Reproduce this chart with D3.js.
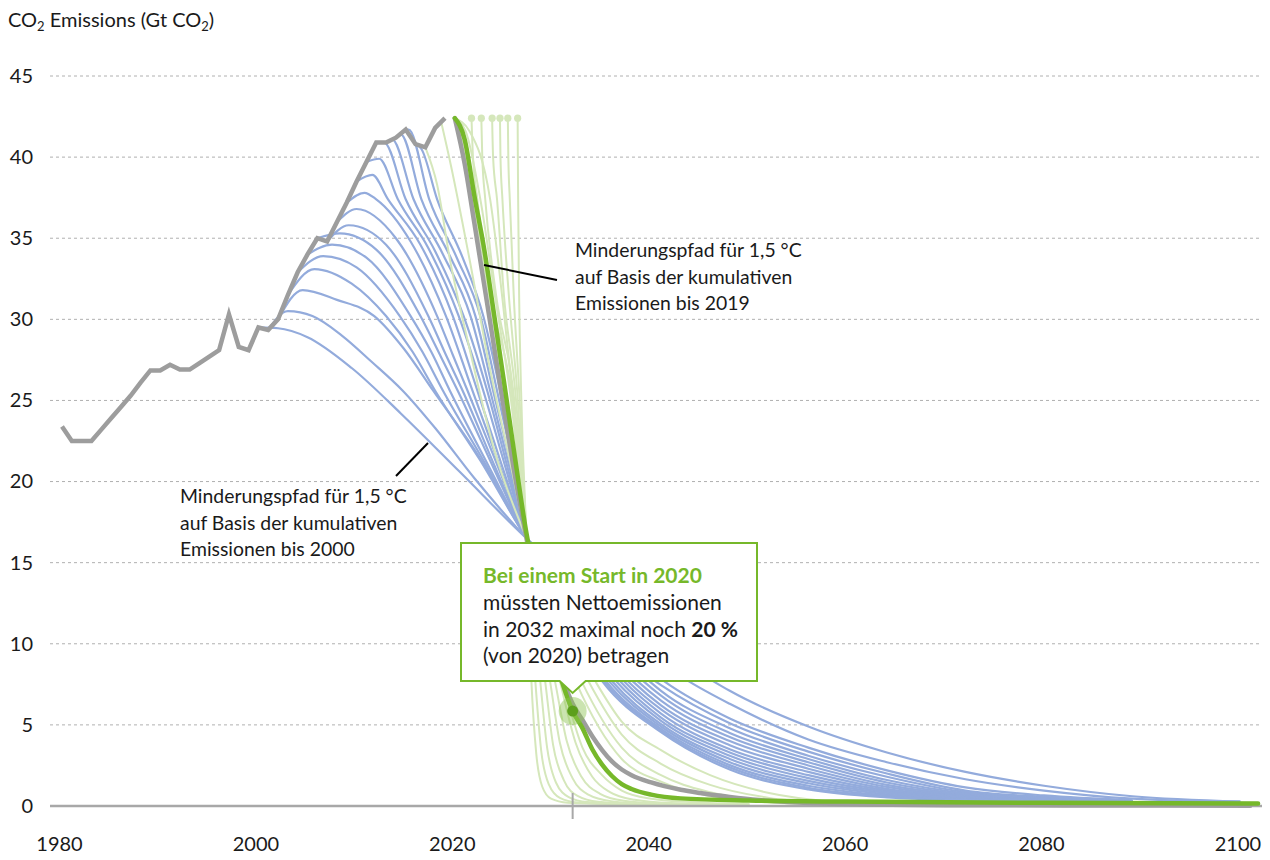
<!DOCTYPE html>
<html>
<head>
<meta charset="utf-8">
<script src="https://cdn.jsdelivr.net/npm/d3@7"></script>
<style>
  body { margin: 0; background: #fff; }
  svg { display: block; font-family: Lato, "Open Sans", sans-serif; }
</style>
</head>
<body>
<div id="chart"></div>
<script>
// historical emissions 1980-2019 (Gt CO2)
var historyYears = d3.range(1980, 2020);
var historyValues = [23.4, 22.5, 22.5, 22.5, 23.2, 23.9, 24.6, 25.3, 26.1, 26.85,
                     26.85, 27.2, 26.9, 26.9, 27.3, 27.7, 28.1, 30.3, 28.3, 28.1,
                     29.5, 29.35, 30.0, 31.5, 32.9, 34.0, 35.0, 34.8, 36.0, 37.2,
                     38.5, 39.7, 40.9, 40.9, 41.2, 41.7, 40.8, 40.6, 41.8, 42.4];

var xTicks = [1980, 2000, 2020, 2040, 2060, 2080, 2100];
var yTicks = [0, 5, 10, 15, 20, 25, 30, 35, 40, 45];

// point where all paths cross (hidden by the box)
var meetPoint = [2027.3, 16.5];

// main path (start 2020) and the grey one
var greenPath = [[2020, 42.4], [2021, 41.1], [2022, 37.6], [2023, 34.3], [2024, 30.3], [2025, 26.2],
                 [2026, 22.0], [2027.3, 16.8], [2028, 14.6], [2029, 12.0], [2030, 9.6], [2031, 7.5],
                 [2032, 5.85], [2033, 4.8], [2034, 3.5], [2035, 2.55], [2036, 1.85], [2037, 1.35],
                 [2038, 1.05], [2040, 0.7], [2043, 0.47], [2050, 0.34], [2060, 0.27], [2080, 0.2],
                 [2101.8, 0.16]];
var greyPath = [[2020, 42.4], [2021, 39.6], [2022, 35.9], [2023, 32.1], [2024, 28.3], [2025, 24.5],
                [2026, 20.8], [2027.3, 16.5], [2028, 14.3], [2029, 11.8], [2030, 9.6], [2031, 7.8],
                [2032, 6.3], [2033, 5.3], [2034, 4.3], [2035, 3.45], [2036, 2.75], [2037, 2.25],
                [2038, 1.9], [2040, 1.45], [2043, 1.0], [2045, 0.8], [2048, 0.56], [2051, 0.37],
                [2055, 0.22], [2060, 0.12], [2070, 0.05], [2085, 0.03], [2101, 0.02]];

// blue paths, start years 2000-2016: part before and after the meeting point
var blueHeads = [
  [[2000, 29.5], [2002, 29.45], [2005, 28.9], [2009.5, 27.0], [2014.5, 24.2], [2020.5, 20.6]],
  [[2001, 29.35], [2003, 30.5], [2005.5, 30.2], [2008.5, 29.0], [2011.5, 27.4], [2014.7, 25.6], [2018, 23.3], [2022, 20.2]],
  [[2002, 30.0], [2004.5, 31.8], [2008, 31.2], [2011.8, 30.2], [2014.8, 28.2], [2017.8, 25.6], [2022.5, 21.5]],
  [[2003, 31.5], [2005.7, 33.1], [2009.5, 32.2], [2013.0, 30.2], [2015.7, 28.0], [2018.0, 25.6], [2022.6, 21.3]],
  [[2004, 32.9], [2006.6, 33.9], [2010, 33.2], [2014.4, 30.2], [2016.7, 28.0], [2018.8, 25.6], [2023, 21.2]],
  [[2005, 34.0], [2007.5, 34.6], [2011, 33.8], [2015.5, 30.2], [2017.6, 28.0], [2019.5, 25.6], [2023.4, 21.0]],
  [[2006, 35.0], [2008.3, 35.3], [2012, 34.3], [2016.5, 30.2], [2018.5, 27.8], [2020.3, 25.6], [2023.9, 20.9]],
  [[2007, 34.8], [2009.2, 35.8], [2013, 34.6], [2017.3, 30.2], [2019.1, 27.8], [2020.8, 25.6], [2024.1, 20.9]],
  [[2008, 36.0], [2010.0, 36.8], [2014, 35.0], [2018.2, 30.2], [2019.8, 27.8], [2021.3, 25.6], [2024.4, 20.9]],
  [[2009, 37.2], [2010.8, 37.8], [2012.0, 37.4], [2015.5, 34.8], [2019.1, 30.2], [2021.8, 25.6], [2024.6, 20.9]],
  [[2010, 38.5], [2011.6, 38.9], [2013.2, 37.4], [2016.5, 34.6], [2019.8, 30.2], [2022.3, 25.6], [2024.9, 20.8]],
  [[2011, 39.7], [2012.3, 39.9], [2014.2, 37.4], [2017.3, 34.4], [2020.4, 30.2], [2022.9, 25.6], [2025.2, 20.8]],
  [[2012, 40.9], [2012.8, 40.9], [2015.0, 37.4], [2018.0, 34.2], [2020.9, 30.2], [2023.3, 25.6], [2025.4, 20.8]],
  [[2013, 40.9], [2013.6, 41.1], [2015.8, 37.4], [2018.8, 34.0], [2021.6, 30.2], [2023.6, 25.6], [2025.6, 20.8]],
  [[2014, 41.2], [2014.5, 41.4], [2016.6, 37.4], [2019.5, 33.9], [2022.1, 30.2], [2023.9, 25.6], [2025.8, 20.8]],
  [[2015, 41.7], [2015.3, 41.7], [2017.4, 37.4], [2020.2, 33.8], [2022.6, 30.2], [2024.3, 25.6], [2026.0, 20.8]],
  [[2016, 40.8], [2016.6, 40.5], [2018.2, 37.4], [2020.8, 33.8], [2022.9, 30.2], [2024.6, 25.6], [2026.1, 20.8]]
];
var blueTails = [
  [[2046.3, 7.7], [2048, 7.1], [2056, 4.9], [2064, 3.3], [2072, 2.1], [2080, 1.25], [2089, 0.6], [2100, 0.28]],
  [[2043.8, 7.7], [2048, 6.3], [2056, 4.1], [2064, 2.7], [2072, 1.65], [2080, 0.95], [2089, 0.45], [2100, 0.25]],
  [[2041.3, 7.7], [2048, 5.4], [2056, 3.6], [2064, 2.2], [2072, 1.15], [2080, 0.65], [2089, 0.35]],
  [[2040.4, 7.7], [2041, 7.45], [2048, 5.1], [2056, 3.35], [2064, 2.0], [2072, 0.95], [2080, 0.56], [2089, 0.33]],
  [[2039.8, 7.7], [2041, 7.1], [2048, 4.8], [2056, 3.1], [2064, 1.8], [2072, 0.85], [2080, 0.5], [2089, 0.31]],
  [[2039.2, 7.7], [2041, 6.8], [2048, 4.5], [2056, 2.9], [2064, 1.6], [2072, 0.78], [2080, 0.47], [2089, 0.3]],
  [[2038.6, 7.7], [2041, 6.5], [2048, 4.25], [2056, 2.7], [2064, 1.45], [2072, 0.72], [2080, 0.44], [2089, 0.29]],
  [[2038.1, 7.7], [2041, 6.2], [2048, 4.0], [2056, 2.5], [2064, 1.3], [2072, 0.66], [2080, 0.42], [2089, 0.28]],
  [[2037.6, 7.7], [2041, 5.95], [2048, 3.75], [2056, 2.3], [2064, 1.18], [2072, 0.6], [2080, 0.4], [2089, 0.28]],
  [[2037.2, 7.7], [2041, 5.7], [2048, 3.5], [2056, 2.1], [2064, 1.06], [2072, 0.56], [2080, 0.38], [2089, 0.27]],
  [[2036.8, 7.7], [2041, 5.45], [2048, 3.3], [2056, 1.9], [2064, 0.96], [2072, 0.52], [2080, 0.36], [2089, 0.27]],
  [[2036.4, 7.7], [2041, 5.25], [2048, 3.1], [2056, 1.72], [2064, 0.88], [2072, 0.49], [2080, 0.35], [2089, 0.27]],
  [[2036.0, 7.7], [2041, 5.05], [2048, 2.9], [2056, 1.55], [2064, 0.8], [2072, 0.46], [2080, 0.34], [2089, 0.26]],
  [[2035.7, 7.7], [2041, 4.9], [2048, 2.7], [2056, 1.4], [2064, 0.72], [2072, 0.43], [2080, 0.33], [2089, 0.26]],
  [[2035.4, 7.7], [2041, 4.75], [2048, 2.52], [2056, 1.25], [2064, 0.65], [2072, 0.4], [2080, 0.32], [2089, 0.26]],
  [[2035.2, 7.7], [2041, 4.65], [2048, 2.38], [2056, 1.12], [2064, 0.58], [2072, 0.38], [2080, 0.31], [2089, 0.25]],
  [[2035.0, 7.7], [2041, 4.55], [2048, 2.25], [2056, 1.02], [2064, 0.53], [2072, 0.36], [2080, 0.3], [2089, 0.25]]
];

// light green alternatives around the 2020 path
var lightHeads = [
  [[2017, 40.6], [2018.2, 38.3], [2019.5, 33.7], [2021.5, 28.2], [2024, 22.0]],
  [[2018.6, 42.2], [2019.6, 39.5], [2021.5, 33.7], [2023.5, 27.2], [2025.5, 21.6]],
  [[2020, 42.4], [2021, 40.0], [2022, 36.2], [2023, 32.4], [2024.5, 26.6]],
  [[2020, 42.4], [2021, 40.6], [2022, 36.9], [2023, 33.3], [2024.6, 27.2]],
  [[2020, 42.4], [2021.1, 41.6], [2022.6, 37.4], [2024.2, 31.0], [2025.6, 25.6]],
  [[2020, 42.4], [2021.5, 41.6], [2023.6, 37.4], [2024.9, 31.0], [2025.85, 25.6]],
  [[2021.7, 42.4], [2021.85, 40.0], [2022.3, 37.4], [2023.6, 31.5], [2025.75, 25.6]],
  [[2022.7, 42.4], [2022.8, 40.0], [2023.1, 37.4], [2024.2, 31.5], [2025.95, 25.6]],
  [[2023.8, 42.4], [2023.9, 40.0], [2024.3, 37.4], [2025.0, 31.5], [2026.15, 25.6]],
  [[2024.6, 42.4], [2024.65, 40.0], [2024.85, 37.4], [2025.5, 31.5], [2026.35, 25.6]],
  [[2025.4, 42.4], [2025.45, 40.0], [2025.6, 37.4], [2026.0, 31.5], [2026.55, 25.6]],
  [[2026.4, 42.4], [2026.42, 40.0], [2026.45, 37.4], [2026.55, 31.5], [2026.75, 25.6]]
];
var lightTails = [
  [[2034.3, 7.7], [2037, 5.2], [2041, 3.45], [2046, 1.9], [2052, 0.8], [2058, 0.3], [2065, 0.12]],
  [[2033.6, 7.7], [2037, 4.4], [2041, 2.6], [2046, 1.3], [2052, 0.5], [2058, 0.2], [2064, 0.1]],
  [[2032.9, 7.7], [2037, 3.6], [2041, 1.9], [2046, 0.85], [2052, 0.3], [2058, 0.14]],
  [[2032.3, 7.7], [2037, 2.9], [2041, 1.5], [2046, 0.6], [2052, 0.22], [2058, 0.12]],
  [[2030.95, 7.7], [2033, 3.6], [2035, 1.9], [2037, 0.95], [2040, 0.45], [2044, 0.25], [2050, 0.12]],
  [[2030.7, 7.7], [2032.3, 3.9], [2034.0, 1.8], [2035.8, 0.85], [2038.3, 0.38], [2042, 0.18], [2050, 0.09]],
  [[2030.2, 7.7], [2031.4, 4.0], [2032.9, 1.8], [2034.8, 0.75], [2037.2, 0.32], [2041, 0.15], [2050, 0.08]],
  [[2029.7, 7.7], [2030.7, 3.9], [2032.0, 1.7], [2033.6, 0.7], [2035.9, 0.3], [2040, 0.14], [2048, 0.08]],
  [[2029.2, 7.7], [2030.0, 3.8], [2031.1, 1.6], [2032.5, 0.62], [2034.6, 0.26], [2039, 0.13], [2047, 0.08]],
  [[2028.7, 7.7], [2029.4, 3.6], [2030.3, 1.45], [2031.6, 0.55], [2033.5, 0.24], [2038, 0.12], [2046, 0.08]],
  [[2028.2, 7.7], [2028.8, 3.4], [2029.6, 1.3], [2030.7, 0.5], [2032.5, 0.22], [2037, 0.12], [2045, 0.08]],
  [[2027.8, 7.7], [2028.3, 3.2], [2028.9, 1.2], [2029.8, 0.45], [2031.5, 0.2], [2036, 0.12], [2045, 0.08]]
];
// paths 6..11 start later and carry a marker on top
var delayedFrom = 6;

var markYear = 2032, markValue = 5.85;

////////////////////////////////////////////////////////////////
// drawing
////////////////////////////////////////////////////////////////

var width = 1270, height = 860;
var colBlue = "#93abdc", colLight = "#d5e7bb", colGreen = "#76b82a", colGrey = "#9d9d9d";

var x = d3.scaleLinear().domain([1980, 2100]).range([62, 1240.4]);
var y = d3.scaleLinear().domain([0, 45]).range([806, 76]);

var svg = d3.select("#chart").append("svg")
    .attr("width", width)
    .attr("height", height);

svg.append("rect").attr("width", width).attr("height", height).attr("fill", "#fff");

var plotLeft = 50, plotRight = 1262;

// grid
svg.append("g").selectAll("line")
    .data(yTicks.filter(function (d) { return d > 0; }))
    .enter().append("line")
    .attr("x1", plotLeft).attr("x2", plotRight)
    .attr("y1", function (d) { return y(d); })
    .attr("y2", function (d) { return y(d); })
    .attr("stroke", "#b0b0b0")
    .attr("stroke-width", 1)
    .attr("stroke-dasharray", "3,3");

// axes labels
var yAxis = svg.append("g")
    .attr("transform", "translate(33,0)")
    .call(d3.axisLeft(y).tickValues(yTicks).tickSize(0).tickPadding(0));
yAxis.select(".domain").remove();
yAxis.selectAll("text").attr("font-size", 20).attr("fill", "#1a1a1a")
    .attr("font-family", "Lato, sans-serif");

var xAxis = svg.append("g")
    .attr("transform", "translate(-3," + y(0) + ")")
    .call(d3.axisBottom(x).tickValues(xTicks).tickFormat(d3.format("d")).tickSize(0).tickPadding(31));
xAxis.select(".domain").remove();
xAxis.selectAll("text").attr("font-size", 20).attr("fill", "#1a1a1a")
    .attr("font-family", "Lato, sans-serif");

var line = d3.line()
    .x(function (d) { return x(d[0]); })
    .y(function (d) { return y(d[1]); })
    .curve(d3.curveMonotoneX);

// blue paths
svg.append("g").selectAll("path")
    .data(blueHeads.map(function (h, i) { return h.concat([meetPoint], blueTails[i]); }))
    .enter().append("path")
    .attr("d", line)
    .attr("fill", "none")
    .attr("stroke", colBlue)
    .attr("stroke-width", 2.2);

// light green paths
svg.append("g").selectAll("path")
    .data(lightHeads.map(function (h, i) { return h.concat([meetPoint], lightTails[i]); }))
    .enter().append("path")
    .attr("d", line)
    .attr("fill", "none")
    .attr("stroke", colLight)
    .attr("stroke-width", 2);

svg.append("g").selectAll("circle")
    .data(lightHeads.slice(delayedFrom).map(function (h) { return h[0]; }))
    .enter().append("circle")
    .attr("cx", function (d) { return x(d[0]); })
    .attr("cy", function (d) { return y(d[1]); })
    .attr("r", 3.6)
    .attr("fill", colLight);

// zero line and 2032 tick
svg.append("line")
    .attr("x1", plotLeft).attr("x2", plotRight)
    .attr("y1", y(0)).attr("y2", y(0))
    .attr("stroke", "#a8a8a8").attr("stroke-width", 2.5);
svg.append("line")
    .attr("x1", x(markYear)).attr("x2", x(markYear))
    .attr("y1", y(0) - 13).attr("y2", y(0) + 13)
    .attr("stroke", "#a8a8a8").attr("stroke-width", 2);

// history
svg.append("path")
    .attr("d", d3.line()
        .x(function (d, i) { return x(historyYears[i]); })
        .y(function (d) { return y(d); })(historyValues))
    .attr("fill", "none")
    .attr("stroke", colGrey)
    .attr("stroke-width", 4.5)
    .attr("stroke-linejoin", "miter");

svg.append("path")
    .attr("d", line(greyPath))
    .attr("fill", "none")
    .attr("stroke", colGrey)
    .attr("stroke-width", 4.5)
    .attr("stroke-linecap", "round");

svg.append("path")
    .attr("d", line(greenPath))
    .attr("fill", "none")
    .attr("stroke", colGreen)
    .attr("stroke-width", 4.5)
    .attr("stroke-linecap", "round");

// leader lines
svg.append("line").attr("x1", 484).attr("y1", 265).attr("x2", 557).attr("y2", 280)
    .attr("stroke", "#000").attr("stroke-width", 2);
svg.append("line").attr("x1", 396).attr("y1", 476).attr("x2", 428).attr("y2", 443)
    .attr("stroke", "#000").attr("stroke-width", 2);

// call-out box
var tipX = x(markYear);
svg.append("path")
    .attr("d", "M461,543 H757 V681 H" + (tipX + 13) + " L" + tipX + ",693 L" + (tipX - 13) + ",681 H461 Z")
    .attr("fill", "#fff")
    .attr("stroke", colGreen)
    .attr("stroke-width", 2);

svg.append("circle")
    .attr("cx", x(markYear)).attr("cy", y(markValue)).attr("r", 14)
    .attr("fill", "#8cc34f").attr("opacity", 0.45);
svg.append("circle")
    .attr("cx", x(markYear)).attr("cy", y(markValue)).attr("r", 5.5)
    .attr("fill", "#5c9f1c");

// texts
function textLines(x0, y0, lines, step, size) {
  lines.forEach(function (t, i) {
    svg.append("text")
        .attr("x", x0).attr("y", y0 + i * step)
        .attr("font-size", size).attr("fill", "#1a1a1a")
        .text(t);
  });
}

var title = svg.append("text").attr("x", 8).attr("y", 27).attr("font-size", 20).attr("fill", "#1a1a1a");
title.append("tspan").text("CO");
title.append("tspan").attr("font-size", 13).attr("dy", 4).text("2");
title.append("tspan").attr("dy", -4).text(" Emissions (Gt CO");
title.append("tspan").attr("font-size", 13).attr("dy", 4).text("2");
title.append("tspan").attr("dy", -4).text(")");

textLines(575, 257, ["Minderungspfad für 1,5 °C", "auf Basis der kumulativen", "Emissionen bis 2019"], 26.5, 19.4);
textLines(180, 503, ["Minderungspfad für 1,5 °C", "auf Basis der kumulativen", "Emissionen bis 2000"], 26.5, 19.4);

svg.append("text").attr("x", 483).attr("y", 583)
    .attr("font-size", 21).attr("font-weight", "bold").attr("fill", colGreen)
    .text("Bei einem Start in 2020");
textLines(483, 610, ["müssten Nettoemissionen"], 26.5, 21);
var t3 = svg.append("text").attr("x", 483).attr("y", 636.5).attr("font-size", 21).attr("fill", "#1a1a1a");
t3.append("tspan").text("in 2032 maximal noch ");
t3.append("tspan").attr("font-weight", "bold").text("20 %");
textLines(483, 663, ["(von 2020) betragen"], 26.5, 21);
</script>
</body>
</html>
